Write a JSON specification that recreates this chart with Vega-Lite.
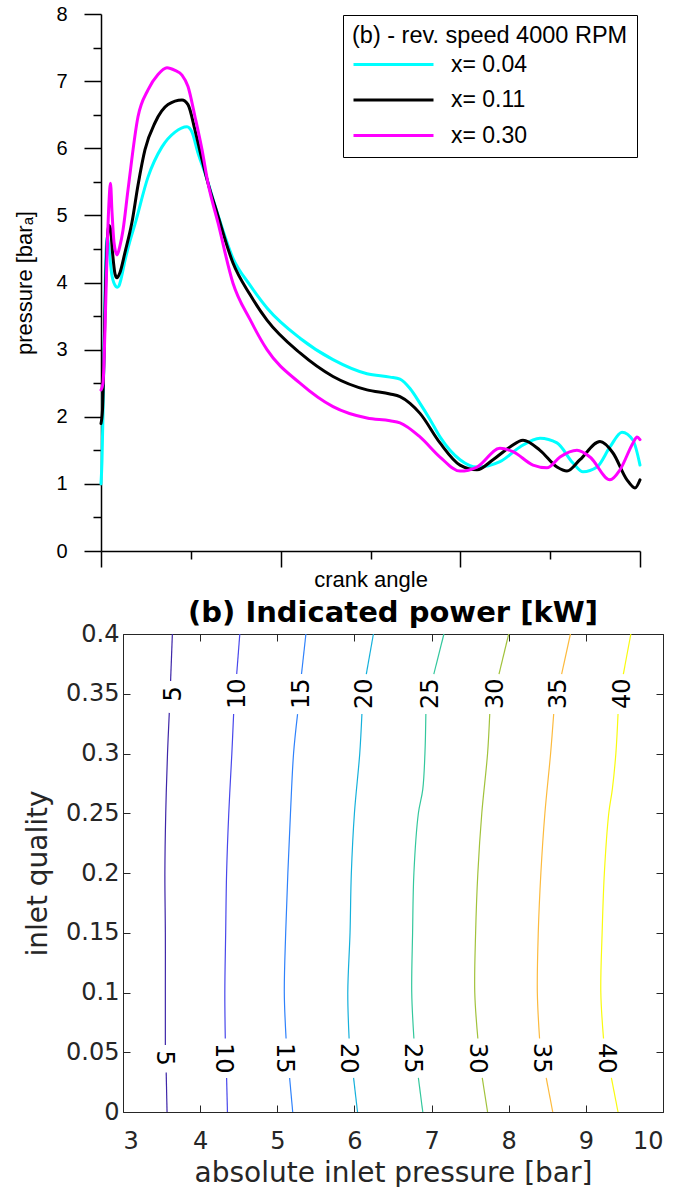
{
  "$schema": "https://vega.github.io/schema/vega-lite/v6.json",
  "padding": {"left": 13, "top": 4, "right": 0, "bottom": 0},
  "background": "white",
  "config": {"view": {"stroke": null}},
  "resolve": {"scale": {"color": "independent"}},
  "columns": 1,
  "spacing": 8,
  "concat": [
    {
      "width": 539,
      "height": 537,
      "data": {"values": [
        {"s": "x= 0.04", "deg": 0, "p": 1.00}, {"s": "x= 0.04", "deg": 0.67, "p": 1.35}, {"s": "x= 0.04", "deg": 1.34, "p": 2.05}, {"s": "x= 0.04", "deg": 2.0, "p": 3.0}, {"s": "x= 0.04", "deg": 2.67, "p": 3.85}, {"s": "x= 0.04", "deg": 3.34, "p": 4.45}, {"s": "x= 0.04", "deg": 4.34, "p": 4.68}, {"s": "x= 0.04", "deg": 5.34, "p": 4.5}, {"s": "x= 0.04", "deg": 7.35, "p": 4.1}, {"s": "x= 0.04", "deg": 10.02, "p": 3.94}, {"s": "x= 0.04", "deg": 11.02, "p": 3.93}, {"s": "x= 0.04", "deg": 12.02, "p": 3.95}, {"s": "x= 0.04", "deg": 13.36, "p": 4.05}, {"s": "x= 0.04", "deg": 16.03, "p": 4.33}, {"s": "x= 0.04", "deg": 19.37, "p": 4.62}, {"s": "x= 0.04", "deg": 22.71, "p": 4.87}, {"s": "x= 0.04", "deg": 31.39, "p": 5.57}, {"s": "x= 0.04", "deg": 40.74, "p": 6.02}, {"s": "x= 0.04", "deg": 49.42, "p": 6.24}, {"s": "x= 0.04", "deg": 57.44, "p": 6.32}, {"s": "x= 0.04", "deg": 60.78, "p": 6.24}, {"s": "x= 0.04", "deg": 64.79, "p": 5.93}, {"s": "x= 0.04", "deg": 69.46, "p": 5.63}, {"s": "x= 0.04", "deg": 76.81, "p": 5.1}, {"s": "x= 0.04", "deg": 88.16, "p": 4.36}, {"s": "x= 0.04", "deg": 99.52, "p": 3.96}, {"s": "x= 0.04", "deg": 110.87, "p": 3.62}, {"s": "x= 0.04", "deg": 132.91, "p": 3.17}, {"s": "x= 0.04", "deg": 154.95, "p": 2.85}, {"s": "x= 0.04", "deg": 177.66, "p": 2.64}, {"s": "x= 0.04", "deg": 193.02, "p": 2.59}, {"s": "x= 0.04", "deg": 199.70, "p": 2.56}, {"s": "x= 0.04", "deg": 206.38, "p": 2.42}, {"s": "x= 0.04", "deg": 213.06, "p": 2.2}, {"s": "x= 0.04", "deg": 219.74, "p": 1.96}, {"s": "x= 0.04", "deg": 226.42, "p": 1.70}, {"s": "x= 0.04", "deg": 239.78, "p": 1.36}, {"s": "x= 0.04", "deg": 251.13, "p": 1.25}, {"s": "x= 0.04", "deg": 266.49, "p": 1.33}, {"s": "x= 0.04", "deg": 279.85, "p": 1.55}, {"s": "x= 0.04", "deg": 293.21, "p": 1.68}, {"s": "x= 0.04", "deg": 304.56, "p": 1.61}, {"s": "x= 0.04", "deg": 315.25, "p": 1.31}, {"s": "x= 0.04", "deg": 321.93, "p": 1.18}, {"s": "x= 0.04", "deg": 331.28, "p": 1.25}, {"s": "x= 0.04", "deg": 339.96, "p": 1.55}, {"s": "x= 0.04", "deg": 347.98, "p": 1.77}, {"s": "x= 0.04", "deg": 355.33, "p": 1.65}, {"s": "x= 0.04", "deg": 360, "p": 1.28},
        {"s": "x= 0.11", "deg": 0, "p": 1.90}, {"s": "x= 0.11", "deg": 1.0, "p": 2.1}, {"s": "x= 0.11", "deg": 2.0, "p": 2.9}, {"s": "x= 0.11", "deg": 3.0, "p": 3.9}, {"s": "x= 0.11", "deg": 4.0, "p": 4.55}, {"s": "x= 0.11", "deg": 5.34, "p": 4.85}, {"s": "x= 0.11", "deg": 6.35, "p": 4.8}, {"s": "x= 0.11", "deg": 7.68, "p": 4.45}, {"s": "x= 0.11", "deg": 9.35, "p": 4.13}, {"s": "x= 0.11", "deg": 10.69, "p": 4.07}, {"s": "x= 0.11", "deg": 12.69, "p": 4.15}, {"s": "x= 0.11", "deg": 16.03, "p": 4.45}, {"s": "x= 0.11", "deg": 20.70, "p": 4.9}, {"s": "x= 0.11", "deg": 24.71, "p": 5.45}, {"s": "x= 0.11", "deg": 29.39, "p": 5.98}, {"s": "x= 0.11", "deg": 36.07, "p": 6.38}, {"s": "x= 0.11", "deg": 44.75, "p": 6.65}, {"s": "x= 0.11", "deg": 54.10, "p": 6.72}, {"s": "x= 0.11", "deg": 58.11, "p": 6.65}, {"s": "x= 0.11", "deg": 62.78, "p": 6.27}, {"s": "x= 0.11", "deg": 67.46, "p": 5.83}, {"s": "x= 0.11", "deg": 71.47, "p": 5.48}, {"s": "x= 0.11", "deg": 77.48, "p": 5.04}, {"s": "x= 0.11", "deg": 88.16, "p": 4.29}, {"s": "x= 0.11", "deg": 99.52, "p": 3.82}, {"s": "x= 0.11", "deg": 110.87, "p": 3.44}, {"s": "x= 0.11", "deg": 132.91, "p": 2.95}, {"s": "x= 0.11", "deg": 154.95, "p": 2.60}, {"s": "x= 0.11", "deg": 177.66, "p": 2.40}, {"s": "x= 0.11", "deg": 193.02, "p": 2.34}, {"s": "x= 0.11", "deg": 199.70, "p": 2.30}, {"s": "x= 0.11", "deg": 206.38, "p": 2.2}, {"s": "x= 0.11", "deg": 213.06, "p": 2.05}, {"s": "x= 0.11", "deg": 226.42, "p": 1.61}, {"s": "x= 0.11", "deg": 239.78, "p": 1.28}, {"s": "x= 0.11", "deg": 251.13, "p": 1.21}, {"s": "x= 0.11", "deg": 261.82, "p": 1.36}, {"s": "x= 0.11", "deg": 273.17, "p": 1.55}, {"s": "x= 0.11", "deg": 281.85, "p": 1.65}, {"s": "x= 0.11", "deg": 293.21, "p": 1.50}, {"s": "x= 0.11", "deg": 304.56, "p": 1.25}, {"s": "x= 0.11", "deg": 311.24, "p": 1.19}, {"s": "x= 0.11", "deg": 319.92, "p": 1.36}, {"s": "x= 0.11", "deg": 333.28, "p": 1.63}, {"s": "x= 0.11", "deg": 341.97, "p": 1.46}, {"s": "x= 0.11", "deg": 351.32, "p": 1.06}, {"s": "x= 0.11", "deg": 356.66, "p": 0.94}, {"s": "x= 0.11", "deg": 360, "p": 1.06},
        {"s": "x= 0.30", "deg": 0, "p": 2.40}, {"s": "x= 0.30", "deg": 1.34, "p": 2.5}, {"s": "x= 0.30", "deg": 2.67, "p": 3.3}, {"s": "x= 0.30", "deg": 4.0, "p": 4.4}, {"s": "x= 0.30", "deg": 5.34, "p": 5.2}, {"s": "x= 0.30", "deg": 6.35, "p": 5.48}, {"s": "x= 0.30", "deg": 7.35, "p": 5.05}, {"s": "x= 0.30", "deg": 8.68, "p": 4.6}, {"s": "x= 0.30", "deg": 10.69, "p": 4.41}, {"s": "x= 0.30", "deg": 12.69, "p": 4.55}, {"s": "x= 0.30", "deg": 14.69, "p": 4.78}, {"s": "x= 0.30", "deg": 18.03, "p": 5.38}, {"s": "x= 0.30", "deg": 24.71, "p": 6.47}, {"s": "x= 0.30", "deg": 31.39, "p": 6.87}, {"s": "x= 0.30", "deg": 38.07, "p": 7.1}, {"s": "x= 0.30", "deg": 44.08, "p": 7.2}, {"s": "x= 0.30", "deg": 49.42, "p": 7.16}, {"s": "x= 0.30", "deg": 54.10, "p": 7.09}, {"s": "x= 0.30", "deg": 58.11, "p": 6.92}, {"s": "x= 0.30", "deg": 62.78, "p": 6.47}, {"s": "x= 0.30", "deg": 67.46, "p": 5.98}, {"s": "x= 0.30", "deg": 71.47, "p": 5.48}, {"s": "x= 0.30", "deg": 78.14, "p": 4.89}, {"s": "x= 0.30", "deg": 88.16, "p": 3.99}, {"s": "x= 0.30", "deg": 99.52, "p": 3.45}, {"s": "x= 0.30", "deg": 110.87, "p": 3.0}, {"s": "x= 0.30", "deg": 132.91, "p": 2.50}, {"s": "x= 0.30", "deg": 154.95, "p": 2.15}, {"s": "x= 0.30", "deg": 177.66, "p": 1.98}, {"s": "x= 0.30", "deg": 193.02, "p": 1.94}, {"s": "x= 0.30", "deg": 199.70, "p": 1.91}, {"s": "x= 0.30", "deg": 213.06, "p": 1.70}, {"s": "x= 0.30", "deg": 226.42, "p": 1.40}, {"s": "x= 0.30", "deg": 239.78, "p": 1.19}, {"s": "x= 0.30", "deg": 251.13, "p": 1.25}, {"s": "x= 0.30", "deg": 266.49, "p": 1.53}, {"s": "x= 0.30", "deg": 275.17, "p": 1.48}, {"s": "x= 0.30", "deg": 288.53, "p": 1.28}, {"s": "x= 0.30", "deg": 297.88, "p": 1.24}, {"s": "x= 0.30", "deg": 306.57, "p": 1.40}, {"s": "x= 0.30", "deg": 317.92, "p": 1.50}, {"s": "x= 0.30", "deg": 326.60, "p": 1.40}, {"s": "x= 0.30", "deg": 339.96, "p": 1.06}, {"s": "x= 0.30", "deg": 346.64, "p": 1.21}, {"s": "x= 0.30", "deg": 355.33, "p": 1.61}, {"s": "x= 0.30", "deg": 358.0, "p": 1.70}, {"s": "x= 0.30", "deg": 360, "p": 1.66}
      ]},
      "mark": {"type": "line", "strokeWidth": 3, "interpolate": "monotone", "strokeCap": "round", "strokeJoin": "round"},
      "encoding": {
        "x": {"field": "deg", "type": "quantitative", "scale": {"domain": [0, 360], "nice": false},
          "axis": {"values": [0, 60, 120, 180, 240, 300, 360], "labels": false, "grid": false, "title": "crank angle",
            "titleFont": "Liberation Sans", "titleFontSize": 22, "titleFontWeight": "normal", "titleColor": "#000", "titlePadding": 2,
            "domainColor": "#000", "domainWidth": 1.5, "tickColor": "#000", "tickWidth": 1.5,
            "tickSize": {"condition": {"test": "datum.value % 120 === 0", "value": 16}, "value": 8}}},
        "y": {"field": "p", "type": "quantitative", "scale": {"domain": [0, 8], "nice": false},
          "axis": {"values": [0, 0.5, 1, 1.5, 2, 2.5, 3, 3.5, 4, 4.5, 5, 5.5, 6, 6.5, 7, 7.5, 8],
            "labelExpr": "datum.value % 1 === 0 ? format(datum.value, 'd') : ''", "grid": false,
            "labelFont": "Liberation Sans", "labelFontSize": 20, "labelColor": "#000", "labelPadding": 17,
            "title": "pressure [barₐ]", "titleFont": "Liberation Sans", "titleFontSize": 22, "titleFontWeight": "normal", "titleColor": "#000", "titlePadding": 19,
            "domainColor": "#000", "domainWidth": 1.5, "tickColor": "#000", "tickWidth": 1.5,
            "tickSize": {"condition": {"test": "datum.value % 1 === 0", "value": 17}, "value": 8}}},
        "color": {"field": "s", "type": "nominal",
          "scale": {"domain": ["x= 0.04", "x= 0.11", "x= 0.30"], "range": ["#00FFFF", "#000000", "#FF00FF"]},
          "legend": {"orient": "none", "legendX": 242, "legendY": 1, "title": "(b) - rev. speed 4000 RPM",
            "titleFont": "Liberation Sans", "titleFontSize": 23.5, "titleFontWeight": "normal", "titleColor": "#000", "titleLimit": 500, "titlePadding": 5,
            "labelFont": "Liberation Sans", "labelFontSize": 23, "labelColor": "#000", "labelLimit": 300, "labelOffset": 16,
            "symbolType": "stroke", "symbolSize": 6400, "symbolStrokeWidth": 3, "clipHeight": 24, "rowPadding": 11.5,
            "padding": 9, "strokeColor": "#000", "fillColor": "#fff"}}
      }
    },
    {
      "width": 562,
      "height": 478,
      "title": {"text": "(b) Indicated power [kW]", "font": "DejaVu Sans", "fontSize": 29, "fontWeight": "bold", "color": "#000", "anchor": "middle", "offset": -6, "dx": 11},
      "resolve": {"axis": {"x": "independent", "y": "independent"}},
      "layer": [
        {
          "data": {"values": [
            {"level": 5, "seg": "a", "x": 3.571, "q": 0}, {"level": 5, "seg": "a", "x": 3.56, "q": 0.033},
            {"level": 5, "seg": "b", "x": 3.549, "q": 0.056}, {"level": 5, "seg": "b", "x": 3.549, "q": 0.1}, {"level": 5, "seg": "b", "x": 3.549, "q": 0.15}, {"level": 5, "seg": "b", "x": 3.543, "q": 0.2}, {"level": 5, "seg": "b", "x": 3.554, "q": 0.25}, {"level": 5, "seg": "b", "x": 3.577, "q": 0.3}, {"level": 5, "seg": "b", "x": 3.60, "q": 0.334},
            {"level": 5, "seg": "c", "x": 3.617, "q": 0.3606}, {"level": 5, "seg": "c", "x": 3.64, "q": 0.4},
            {"level": 10, "seg": "a", "x": 4.354, "q": 0}, {"level": 10, "seg": "a", "x": 4.343, "q": 0.0285},
            {"level": 10, "seg": "b", "x": 4.326, "q": 0.0615}, {"level": 10, "seg": "b", "x": 4.32, "q": 0.1}, {"level": 10, "seg": "b", "x": 4.331, "q": 0.15}, {"level": 10, "seg": "b", "x": 4.343, "q": 0.2}, {"level": 10, "seg": "b", "x": 4.371, "q": 0.25}, {"level": 10, "seg": "b", "x": 4.411, "q": 0.3}, {"level": 10, "seg": "b", "x": 4.434, "q": 0.333},
            {"level": 10, "seg": "c", "x": 4.474, "q": 0.3665}, {"level": 10, "seg": "c", "x": 4.514, "q": 0.4},
            {"level": 15, "seg": "a", "x": 5.2, "q": 0}, {"level": 15, "seg": "a", "x": 5.16, "q": 0.0285},
            {"level": 15, "seg": "b", "x": 5.114, "q": 0.0615}, {"level": 15, "seg": "b", "x": 5.091, "q": 0.1}, {"level": 15, "seg": "b", "x": 5.109, "q": 0.15}, {"level": 15, "seg": "b", "x": 5.137, "q": 0.2}, {"level": 15, "seg": "b", "x": 5.171, "q": 0.25}, {"level": 15, "seg": "b", "x": 5.211, "q": 0.3}, {"level": 15, "seg": "b", "x": 5.263, "q": 0.333},
            {"level": 15, "seg": "c", "x": 5.314, "q": 0.3665}, {"level": 15, "seg": "c", "x": 5.371, "q": 0.4},
            {"level": 20, "seg": "a", "x": 6.04, "q": 0}, {"level": 20, "seg": "a", "x": 5.989, "q": 0.0285},
            {"level": 20, "seg": "b", "x": 5.931, "q": 0.0615}, {"level": 20, "seg": "b", "x": 5.914, "q": 0.1}, {"level": 20, "seg": "b", "x": 5.943, "q": 0.15}, {"level": 20, "seg": "b", "x": 5.96, "q": 0.2}, {"level": 20, "seg": "b", "x": 6.0, "q": 0.25}, {"level": 20, "seg": "b", "x": 6.069, "q": 0.3}, {"level": 20, "seg": "b", "x": 6.097, "q": 0.333},
            {"level": 20, "seg": "c", "x": 6.154, "q": 0.3665}, {"level": 20, "seg": "c", "x": 6.246, "q": 0.4},
            {"level": 25, "seg": "a", "x": 6.886, "q": 0}, {"level": 25, "seg": "a", "x": 6.829, "q": 0.0285},
            {"level": 25, "seg": "b", "x": 6.771, "q": 0.0615}, {"level": 25, "seg": "b", "x": 6.743, "q": 0.1}, {"level": 25, "seg": "b", "x": 6.754, "q": 0.15}, {"level": 25, "seg": "b", "x": 6.771, "q": 0.2}, {"level": 25, "seg": "b", "x": 6.829, "q": 0.25}, {"level": 25, "seg": "b", "x": 6.886, "q": 0.27}, {"level": 25, "seg": "b", "x": 6.914, "q": 0.3}, {"level": 25, "seg": "b", "x": 6.926, "q": 0.333},
            {"level": 25, "seg": "c", "x": 7.029, "q": 0.3665}, {"level": 25, "seg": "c", "x": 7.16, "q": 0.4},
            {"level": 30, "seg": "a", "x": 7.726, "q": 0}, {"level": 30, "seg": "a", "x": 7.657, "q": 0.0285},
            {"level": 30, "seg": "b", "x": 7.6, "q": 0.0615}, {"level": 30, "seg": "b", "x": 7.56, "q": 0.1}, {"level": 30, "seg": "b", "x": 7.571, "q": 0.15}, {"level": 30, "seg": "b", "x": 7.6, "q": 0.2}, {"level": 30, "seg": "b", "x": 7.651, "q": 0.25}, {"level": 30, "seg": "b", "x": 7.726, "q": 0.3}, {"level": 30, "seg": "b", "x": 7.754, "q": 0.333},
            {"level": 30, "seg": "c", "x": 7.874, "q": 0.3665}, {"level": 30, "seg": "c", "x": 8.0, "q": 0.4},
            {"level": 35, "seg": "a", "x": 8.571, "q": 0}, {"level": 35, "seg": "a", "x": 8.486, "q": 0.0285},
            {"level": 35, "seg": "b", "x": 8.4, "q": 0.0615}, {"level": 35, "seg": "b", "x": 8.371, "q": 0.1}, {"level": 35, "seg": "b", "x": 8.383, "q": 0.15}, {"level": 35, "seg": "b", "x": 8.417, "q": 0.2}, {"level": 35, "seg": "b", "x": 8.469, "q": 0.25}, {"level": 35, "seg": "b", "x": 8.543, "q": 0.3}, {"level": 35, "seg": "b", "x": 8.583, "q": 0.333},
            {"level": 35, "seg": "c", "x": 8.686, "q": 0.3665}, {"level": 35, "seg": "c", "x": 8.8, "q": 0.4},
            {"level": 40, "seg": "a", "x": 9.417, "q": 0}, {"level": 40, "seg": "a", "x": 9.331, "q": 0.0285},
            {"level": 40, "seg": "b", "x": 9.229, "q": 0.0615}, {"level": 40, "seg": "b", "x": 9.194, "q": 0.1}, {"level": 40, "seg": "b", "x": 9.211, "q": 0.15}, {"level": 40, "seg": "b", "x": 9.24, "q": 0.2}, {"level": 40, "seg": "b", "x": 9.297, "q": 0.25}, {"level": 40, "seg": "b", "x": 9.343, "q": 0.27}, {"level": 40, "seg": "b", "x": 9.389, "q": 0.3}, {"level": 40, "seg": "b", "x": 9.417, "q": 0.333},
            {"level": 40, "seg": "c", "x": 9.486, "q": 0.3665}, {"level": 40, "seg": "c", "x": 9.583, "q": 0.4}
          ]},
          "mark": {"type": "line", "strokeWidth": 1.2, "interpolate": "catmull-rom"},
          "encoding": {
            "x": {"field": "x", "type": "quantitative", "scale": {"domain": [3, 10], "nice": false, "range": [22, 562]},
              "axis": {"orient": "bottom", "values": [3, 4, 5, 6, 7, 8, 9, 10], "grid": false, "title": "absolute inlet pressure [bar]",
                "labelFont": "DejaVu Sans", "labelFontSize": 24, "labelColor": "#262626", "labelPadding": 24,
                "titleFont": "DejaVu Sans", "titleFontSize": 28, "titleFontWeight": "normal", "titleColor": "#262626", "titlePadding": 6,
                "domainColor": "#262626", "domainWidth": 1, "tickColor": "#262626", "tickWidth": 1, "tickSize": -7}},
            "y": {"field": "q", "type": "quantitative", "scale": {"domain": [0, 0.4], "nice": false},
              "axis": {"orient": "left", "offset": -22, "values": [0, 0.05, 0.1, 0.15, 0.2, 0.25, 0.3, 0.35, 0.4], "format": "~g", "grid": false, "title": "inlet quality",
                "labelFont": "DejaVu Sans", "labelFontSize": 24, "labelColor": "#262626", "labelPadding": 11,
                "titleFont": "DejaVu Sans", "titleFontSize": 28, "titleFontWeight": "normal", "titleColor": "#262626", "titlePadding": 13,
                "domainColor": "#262626", "domainWidth": 1, "tickColor": "#262626", "tickWidth": 1, "tickSize": -7}},
            "color": {"field": "level", "type": "ordinal",
              "scale": {"domain": [5, 10, 15, 20, 25, 30, 35, 40], "range": ["#3E26A8", "#4847EB", "#2E81FB", "#14B0DB", "#33C79C", "#A1C23B", "#FCBA3D", "#F9FB0E"]},
              "legend": null},
            "detail": {"field": "seg", "type": "nominal"},
            "order": {"field": "q", "type": "quantitative"}
          }
        },
        {
          "data": {"values": [
            {"level": 5, "pos": "top", "x": 3.657, "q": 0.35}, {"level": 10, "pos": "top", "x": 4.486, "q": 0.35}, {"level": 15, "pos": "top", "x": 5.314, "q": 0.35}, {"level": 20, "pos": "top", "x": 6.14, "q": 0.35},
            {"level": 25, "pos": "top", "x": 6.989, "q": 0.35}, {"level": 30, "pos": "top", "x": 7.829, "q": 0.35}, {"level": 35, "pos": "top", "x": 8.657, "q": 0.35}, {"level": 40, "pos": "top", "x": 9.486, "q": 0.35}
          ]},
          "mark": {"type": "text", "angle": 270, "font": "DejaVu Sans", "fontSize": 24, "color": "#000", "align": "center", "baseline": "middle"},
          "encoding": {
            "x": {"field": "x", "type": "quantitative", "scale": {"domain": [3, 10], "nice": false, "range": [22, 562]},
              "axis": {"orient": "top", "values": [3, 4, 5, 6, 7, 8, 9, 10], "labels": false, "title": null, "grid": false,
                "domainColor": "#262626", "domainWidth": 1, "tickColor": "#262626", "tickWidth": 1, "tickSize": -7}},
            "y": {"field": "q", "type": "quantitative", "scale": {"domain": [0, 0.4], "nice": false},
              "axis": {"orient": "right", "values": [0, 0.05, 0.1, 0.15, 0.2, 0.25, 0.3, 0.35, 0.4], "labels": false, "title": null, "grid": false,
                "domainColor": "#262626", "domainWidth": 1, "tickColor": "#262626", "tickWidth": 1, "tickSize": -7}},
            "text": {"field": "level", "type": "nominal"}
          }
        },
        {
          "data": {"values": [
            {"level": 5, "pos": "bottom", "x": 3.526, "q": 0.045}, {"level": 10, "pos": "bottom", "x": 4.297, "q": 0.045}, {"level": 15, "pos": "bottom", "x": 5.086, "q": 0.045}, {"level": 20, "pos": "bottom", "x": 5.914, "q": 0.045},
            {"level": 25, "pos": "bottom", "x": 6.743, "q": 0.045}, {"level": 30, "pos": "bottom", "x": 7.589, "q": 0.045}, {"level": 35, "pos": "bottom", "x": 8.417, "q": 0.045}, {"level": 40, "pos": "bottom", "x": 9.257, "q": 0.045}
          ]},
          "mark": {"type": "text", "angle": 90, "font": "DejaVu Sans", "fontSize": 24, "color": "#000", "align": "center", "baseline": "middle"},
          "encoding": {
            "x": {"field": "x", "type": "quantitative", "scale": {"domain": [3, 10], "nice": false, "range": [22, 562]}, "axis": null},
            "y": {"field": "q", "type": "quantitative", "scale": {"domain": [0, 0.4], "nice": false}, "axis": null},
            "text": {"field": "level", "type": "nominal"}
          }
        }
      ]
    }
  ]
}
